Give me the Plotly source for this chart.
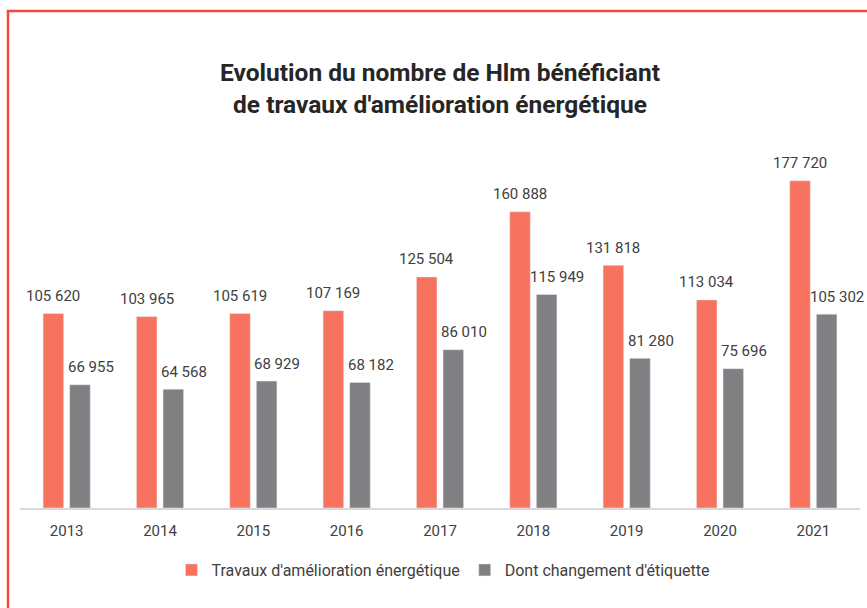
import plotly.graph_objects as go

years = ["2013", "2014", "2015", "2016", "2017", "2018", "2019", "2020", "2021"]
travaux = [105620, 103965, 105619, 107169, 125504, 160888, 131818, 113034, 177720]
etiquette = [66955, 64568, 68929, 68182, 86010, 115949, 81280, 75696, 105302]
name_travaux = "Travaux d'amélioration énergétique"
name_etiquette = "Dont changement d'étiquette"
title_text = "Evolution du nombre de Hlm bénéficiant<br>de travaux d'amélioration énergétique"

ORANGE = "#F7735F"
GRAY = "#808083"
BORDER = "#EE4B3B"
TXT = "#404040"
FONT = "Roboto"

W, H = 867, 608
ML, MR, MT, MB = 20, 7, 149, 100
YMAX = 195000


def fmt(v):
    return f"{v:,}".replace(",", " ")


fig = go.Figure()
fig.add_trace(go.Bar(x=years, y=travaux, name=name_travaux, marker_color=ORANGE))
fig.add_trace(go.Bar(x=years, y=etiquette, name=name_etiquette, marker_color=GRAY))

ann = []
for i, v in enumerate(travaux):
    ann.append(dict(x=i, y=v, text=fmt(v), showarrow=False, xref="x", yref="y",
                    xshift=-13.3, yshift=17.5, yanchor="middle",
                    font=dict(family=FONT, size=15, color=TXT)))
for i, v in enumerate(etiquette):
    ann.append(dict(x=i, y=v, text=fmt(v), showarrow=False, xref="x", yref="y",
                    xshift=24, yshift=17.5, yanchor="middle",
                    font=dict(family=FONT, size=15, color=TXT)))

pw = W - ML - MR
ph = H - MT - MB
def px2paper_x(px):
    return (px - ML) / pw
def px2paper_y(py):
    return (H - MB - py) / ph

shapes = [
    dict(type="path", xref="paper", yref="paper",
         path=f"M {px2paper_x(8)} {px2paper_y(620)} L {px2paper_x(8)} {px2paper_y(11)} L {px2paper_x(880)} {px2paper_y(11)}",
         line=dict(color=BORDER, width=2.5)),
]

fig.update_layout(
    width=W, height=H,
    margin=dict(l=ML, r=MR, t=MT, b=MB, autoexpand=False),
    paper_bgcolor="white", plot_bgcolor="white",
    barmode="group", bargap=0.43, bargroupgap=0.226,
    title=dict(text=f"<b>{title_text}</b>", x=0.5, xanchor="center", xref="paper",
               y=1 - 81 / H, yanchor="middle", yref="container",
               font=dict(family=FONT, size=24.5, color="#262626")),
    xaxis=dict(type="category", range=[-0.5, len(years) - 0.5], showline=True,
               linecolor="#D9D9D9", linewidth=1.5, ticks="",
               tickfont=dict(family=FONT, size=15, color=TXT), ticklabelstandoff=8),
    yaxis=dict(range=[0, YMAX], visible=False, showgrid=False),
    legend=dict(orientation="h", x=px2paper_x(443), xanchor="center",
                y=px2paper_y(570), yanchor="middle",
                font=dict(family=FONT, size=16, color=TXT), itemwidth=30),
    annotations=ann,
    shapes=shapes,
    showlegend=True,
)

fig.write_html("out.html", config={"displayModeBar": False},
               post_script="document.body.style.margin='0';document.body.style.padding='0';")
